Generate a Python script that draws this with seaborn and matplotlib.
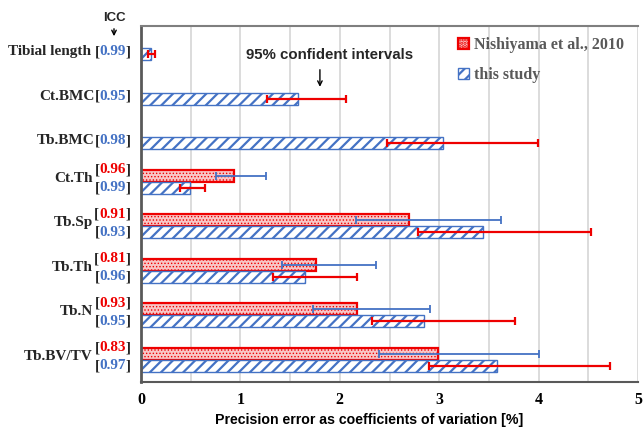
import numpy as np
import pandas as pd
import matplotlib
matplotlib.use('Agg')
import matplotlib.pyplot as plt
import seaborn as sns
from matplotlib.patches import Patch
from matplotlib.ticker import MultipleLocator
from matplotlib.transforms import offset_copy

nan = np.nan
categories = ['Tibial length', 'Ct.BMC', 'Tb.BMC', 'Ct.Th', 'Tb.Sp', 'Tb.Th', 'Tb.N', 'Tb.BV/TV']
sources = ['Nishiyama et al., 2010', 'this study']

# precision error (CV %) and 95% confidence intervals
nishiyama_cv = [nan, nan, nan, 0.94, 2.70, 1.76, 2.17, 2.99]
nishiyama_lo = [nan, nan, nan, 0.75, 2.16, 1.42, 1.73, 2.39]
nishiyama_hi = [nan, nan, nan, 1.26, 3.62, 2.36, 2.91, 4.00]
study_cv = [0.10, 1.58, 3.04, 0.49, 3.44, 1.65, 2.85, 3.58]
study_lo = [0.07, 1.27, 2.47, 0.39, 2.79, 1.33, 2.32, 2.90]
study_hi = [0.14, 2.06, 3.99, 0.64, 4.53, 2.17, 3.76, 4.72]

icc_nishiyama = [None, None, None, '0.96', '0.91', '0.81', '0.93', '0.83']
icc_study = ['0.99', '0.95', '0.98', '0.99', '0.93', '0.96', '0.95', '0.97']

RED = '#ee0000'
BLUE = '#4472c4'
GRAY = '#595959'

df = pd.DataFrame({
    'category': categories * 2,
    'source': [sources[0]] * len(categories) + [sources[1]] * len(categories),
    'cv': nishiyama_cv + study_cv,
}).dropna()

sns.set_theme(style='white')
plt.rcParams['hatch.linewidth'] = 1.6
serif = 'Liberation Serif'
sans = 'Liberation Sans'

fig = plt.figure(figsize=(6.43, 4.33), dpi=100)
ax = fig.add_axes([141 / 643, 51 / 433, 497 / 643, 356 / 433])

sns.barplot(data=df, y='category', x='cv', hue='source', order=categories,
            hue_order=sources, orient='h', width=0.53, errorbar=None,
            legend=False, ax=ax)
ax.set_ylim(len(categories) - 0.5, -0.5)

styles = {
    0: dict(facecolor='#f8c6c6', edgecolor=RED, hatch='.....', linewidth=1.6),
    1: dict(facecolor='white', edgecolor=BLUE, hatch='///', linewidth=1.0),
}
hatch_lw = {0: 0.6, 1: 1.6}
err_color = {0: BLUE, 1: RED}
lows = {0: nishiyama_lo, 1: study_lo}
highs = {0: nishiyama_hi, 1: study_hi}

for k, cont in enumerate(ax.containers[:2]):
    for p in cont:
        p.set(**styles[k])
        if hasattr(p, 'set_hatch_linewidth'):
            p.set_hatch_linewidth(hatch_lw[k])
        yc = p.get_y() + p.get_height() / 2
        w = p.get_width()
        i = int(round(yc))
        lo, hi = lows[k][i], highs[k][i]
        ax.errorbar(w, yc, xerr=[[w - lo], [hi - w]], fmt='none',
                    ecolor=err_color[k], elinewidth=1.6 if k else 1.3,
                    capsize=3, capthick=1.6 if k else 1.3, zorder=5)

ax.set_xlim(0, 5)
ax.xaxis.set_major_locator(MultipleLocator(1))
ax.xaxis.set_minor_locator(MultipleLocator(0.5))
ax.grid(True, axis='x', which='both', color='#d9d9d9', linewidth=1.3)
ax.set_axisbelow(True)
ax.tick_params(axis='both', which='both', length=0)
ax.set_yticklabels([])
ax.set_ylabel('')
for t in ax.get_xticklabels():
    t.set_fontfamily(serif)
    t.set_fontweight('bold')
    t.set_fontsize(11.5)
    t.set_color('black')
ax.tick_params(axis='x', pad=7)
ax.set_xlabel('Precision error as coefficients of variation [%]',
              fontfamily=sans, fontweight='bold', fontsize=10.2, color='black')
ax.xaxis.set_label_coords(0.458, -0.088)

ax.spines['right'].set_visible(False)
ax.spines['left'].set_color(GRAY)
ax.spines['left'].set_linewidth(2)
ax.spines['bottom'].set_color(GRAY)
ax.spines['bottom'].set_linewidth(1.5)
ax.spines['top'].set_color('#7f7f7f')
ax.spines['top'].set_linewidth(1.5)

# y labels: name + ICC in brackets
base = offset_copy(ax.get_yaxis_transform(), fig=fig, x=-10, y=0, units='dots')
name_tr = offset_copy(ax.get_yaxis_transform(), fig=fig, x=-48, y=0, units='dots')
fs = 11


def bracket(y, val, color):
    t1 = ax.text(0, y, ']', transform=base, ha='right', va='center',
                 fontfamily=serif, fontweight='bold', fontsize=fs, color='#262626')
    t2 = ax.annotate(val, xy=(0, 0.5), xycoords=t1, ha='right', va='center',
                     fontfamily=serif, fontweight='bold', fontsize=fs, color=color)
    t3 = ax.annotate('[', xy=(0, 0.5), xycoords=t2, ha='right', va='center',
                     fontfamily=serif, fontweight='bold', fontsize=fs, color='#262626')
    return t3


for i, name in enumerate(categories):
    if icc_nishiyama[i] is None:
        t3 = bracket(i + 0.08, icc_study[i], BLUE)
        sep = ' ' if ' ' in name else ''
        ax.annotate(name + sep, xy=(0, 0.5), xycoords=t3, ha='right', va='center',
                    fontfamily=serif, fontweight='bold', fontsize=fs, color='#262626')
    else:
        bracket(i - 0.27, icc_nishiyama[i], RED)
        bracket(i + 0.14, icc_study[i], BLUE)
        ax.text(0, i - 0.08, name, transform=name_tr, ha='right', va='center',
                fontfamily=serif, fontweight='bold', fontsize=fs, color='#262626')

# annotations
fig.text(114 / 643, 1 - 18 / 433, 'ICC', ha='center', va='center',
         fontfamily=sans, fontweight='bold', fontsize=9.5)
ax.annotate('', xy=(114 / 643, 1 - 39 / 433), xytext=(114 / 643, 1 - 26 / 433),
            xycoords='figure fraction', textcoords='figure fraction',
            arrowprops=dict(arrowstyle='->', lw=1, color='black', mutation_scale=8),
            annotation_clip=False)
ax.text(1.9, 0.15, '95% confident intervals', ha='center', va='center',
        fontfamily=sans, fontweight='bold', fontsize=10.8)
ax.annotate('', xy=(1.8, 0.93), xytext=(1.8, 0.42),
            arrowprops=dict(arrowstyle='->', lw=1, color='black', mutation_scale=8))

handles = [Patch(**styles[0]), Patch(**styles[1])]
leg = ax.legend(handles, sources, loc='upper left', bbox_to_anchor=(458 / 643, 1 - 37 / 433),
                bbox_transform=fig.transFigure, frameon=False, borderpad=0, borderaxespad=0,
                handlelength=0.7, handleheight=0.7, handletextpad=0.3, labelspacing=0.9,
                prop={'family': serif, 'weight': 'bold', 'size': 11.5})
for t in leg.get_texts():
    t.set_color(GRAY)

fig.savefig('out.png', dpi=100)
